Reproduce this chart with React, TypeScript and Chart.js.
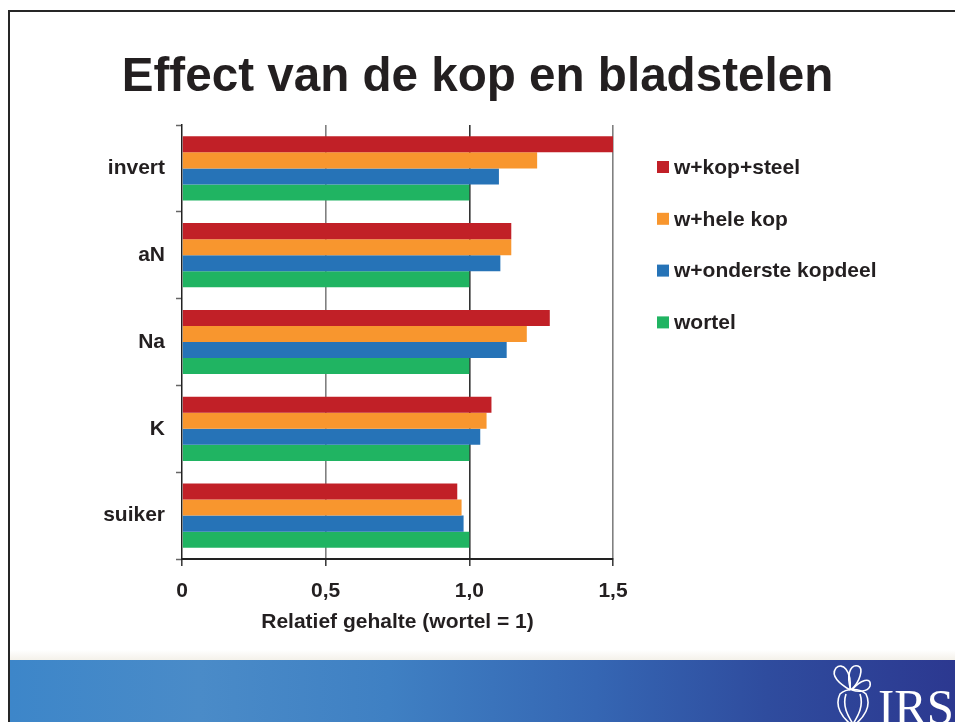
import React, { useEffect, useRef } from 'react';
import { Chart, registerables } from 'chart.js';

Chart.register(...registerables);

// ---- data ----
const chartTitle = 'Effect van de kop en bladstelen';
const axisTitle = 'Relatief gehalte (wortel = 1)';
const categories = ['invert', 'aN', 'Na', 'K', 'suiker'];
const seriesNames = ['w+kop+steel', 'w+hele kop', 'w+onderste kopdeel', 'wortel'];
const kopSteel = [1.5, 1.146, 1.28, 1.077, 0.958];
const heleKop = [1.236, 1.146, 1.2, 1.06, 0.973];
const ondersteKopdeel = [1.103, 1.108, 1.13, 1.038, 0.98];
const wortel = [1.0, 1.0, 1.0, 1.0, 1.0];
const xTickValues = [0, 0.5, 1.0, 1.5];
const xTickLabels = ['0', '0,5', '1,0', '1,5'];

const seriesColors = ['#C12027', '#F8962E', '#2673B7', '#20B462'];
const FONT = '"Liberation Sans", Arial, Helvetica, sans-serif';
const TEXT = '#231F20';

const slidePlugin = {
  id: 'slideDecor',
  afterDraw(chart: any) {
    const ctx = chart.ctx;
    ctx.save();
    // title
    ctx.fillStyle = TEXT;
    ctx.font = `bold 47.6px ${FONT}`;
    ctx.textAlign = 'center';
    ctx.textBaseline = 'alphabetic';
    ctx.fillText(chartTitle, 477.5, 91);
    // legend
    ctx.font = `bold 21px ${FONT}`;
    ctx.textAlign = 'left';
    ctx.textBaseline = 'middle';
    chart.data.datasets.forEach((ds: any, i: number) => {
      const y = 167 + i * 51.8;
      ctx.fillStyle = ds.backgroundColor;
      ctx.fillRect(657, y - 6, 12, 12);
      ctx.fillStyle = TEXT;
      ctx.fillText(ds.label, 674, y + 1);
    });
    ctx.restore();
  },
};

function BarChart() {
  const ref = useRef<HTMLCanvasElement>(null);
  useEffect(() => {
    if (!ref.current) return;
    const values = [kopSteel, heleKop, ondersteKopdeel, wortel];
    const chart = new Chart(ref.current, {
      type: 'bar',
      data: {
        labels: categories,
        datasets: seriesNames.map((name, i) => ({
          label: name,
          data: values[i],
          backgroundColor: seriesColors[i],
          borderWidth: 0,
          categoryPercentage: 0.74,
          barPercentage: 1.0,
        })),
      },
      options: {
        indexAxis: 'y',
        responsive: false,
        animation: false,
        layout: { padding: { left: 82, right: 342, top: 125, bottom: 83 } },
        plugins: {
          legend: { display: false },
          tooltip: { enabled: false },
          title: { display: false },
        },
        scales: {
          x: {
            type: 'linear',
            min: 0,
            max: 1.5,
            afterBuildTicks: (s: any) => {
              s.ticks = xTickValues.map((v) => ({ value: v }));
            },
            afterFit: (s: any) => {
              s.height = 80;
            },
            ticks: {
              callback: (_v: any, i: number) => xTickLabels[i],
              font: { family: FONT, size: 21, weight: 'bold' },
              color: TEXT,
              padding: 13,
              maxRotation: 0,
              autoSkip: false,
            },
            grid: {
              color: (c: any) =>
                c.tick && c.tick.value === 0
                  ? 'rgba(0,0,0,0)'
                  : c.tick && c.tick.value === 1
                  ? '#333333'
                  : '#808080',
              lineWidth: 1.6,
              tickLength: 7,
              tickColor: '#333333',
              tickWidth: 1.5,
            },
            border: { display: true, color: '#222222', width: 2 },
            title: {
              display: true,
              text: axisTitle,
              font: { family: FONT, size: 21, weight: 'bold' },
              color: TEXT,
              padding: { top: 0, bottom: 4 },
            },
          },
          y: {
            type: 'category',
            afterFit: (s: any) => {
              s.width = 100;
            },
            ticks: {
              font: { family: FONT, size: 21, weight: 'bold' },
              color: TEXT,
              padding: 11,
            },
            grid: {
              drawOnChartArea: false,
              offset: true,
              tickLength: 6,
              tickColor: '#666666',
              tickWidth: 1.5,
            },
            border: { display: true, color: '#222222', width: 1.5 },
          },
        },
      } as any,
      plugins: [slidePlugin],
    });
    return () => chart.destroy();
  }, []);
  return (
    <canvas
      ref={ref}
      width={955}
      height={722}
      style={{ position: 'absolute', left: 0, top: 0, width: 955, height: 722 }}
    />
  );
}

export default function App() {
  return (
    <div
      style={{
        position: 'fixed',
        left: 0,
        top: 0,
        width: 955,
        height: 722,
        background: '#ffffff',
        overflow: 'hidden',
      }}
    >
      {/* slide frame */}
      <div style={{ position: 'absolute', left: 7.5, top: 9.5, width: 948, height: 2, background: '#262626' }} />
      <div style={{ position: 'absolute', left: 7.5, top: 9.5, width: 2, height: 713, background: '#262626' }} />
      <BarChart />
      {/* bottom banner */}
      <div
        style={{
          position: 'absolute',
          left: 9.5,
          top: 650,
          width: 946,
          height: 10,
          background: 'linear-gradient(to bottom, #ffffff, #f4f1ea)',
        }}
      />
      <div
        style={{
          position: 'absolute',
          left: 9.5,
          top: 660,
          width: 946,
          height: 62,
          background:
            'linear-gradient(to right, #3d86c9 0%, #4a8bc8 20%, #3f80c3 40%, #3566b3 62%, #2f4c9e 80%, #2c3890 100%)',
        }}
      />
      <svg
        width={955}
        height={722}
        style={{ position: 'absolute', left: 0, top: 0, pointerEvents: 'none' }}
      >
        <g fill="none" stroke="#ffffff" strokeWidth={1.6}>
          <path d="M850 690 C 840 684, 830 676, 836 668 C 842 662, 852 670, 850 690" />
          <path d="M851 690 C 846 676, 850 664, 858 666 C 864 668, 860 682, 851 690" />
          <path d="M852 690 C 860 680, 872 676, 870 686 C 868 692, 858 692, 852 690" />
          <path d="M840 694 C 834 706, 842 718, 853 726 C 864 718, 872 706, 866 694 C 860 688, 846 688, 840 694 Z" />
          <path d="M846 694 C 842 706, 848 716, 853 724 C 858 716, 864 706, 860 694" />
        </g>
        <text
          x={878}
          y={724}
          fill="#ffffff"
          fontFamily='"Liberation Serif", "DejaVu Serif", serif'
          fontSize={50}
          textLength={76}
          lengthAdjust="spacingAndGlyphs"
        >
          IRS
        </text>
      </svg>
    </div>
  );
}
